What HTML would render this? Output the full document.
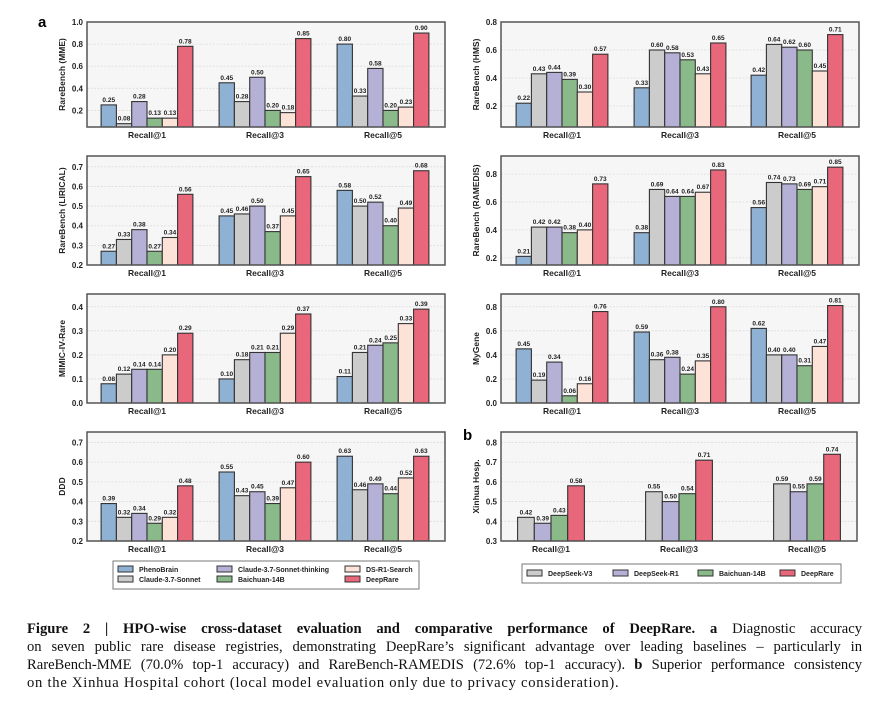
<!DOCTYPE html>
<html><head><meta charset="utf-8">
<style>
body{margin:0;background:#fff;width:876px;height:705px;overflow:hidden;font-family:"Liberation Sans",sans-serif;}
svg{position:absolute;left:0;top:0;}
#cap{position:absolute;left:27px;top:620px;width:835px;font-family:"Liberation Serif",serif;font-size:14.6px;line-height:18px;color:#111;white-space:nowrap;}
#cap .j{text-align:justify;text-align-last:justify;white-space:normal;height:18px;overflow:visible;}
#cap .last{letter-spacing:0.75px;}
</style></head><body>
<svg id="fig" width="876" height="600"></svg>
<div id="cap">
<div class="j"><b>Figure 2 | HPO-wise cross-dataset evaluation and comparative performance of DeepRare.</b> <b>a</b> Diagnostic accuracy</div>
<div class="j">on seven public rare disease registries, demonstrating DeepRare’s significant advantage over leading baselines – particularly in</div>
<div class="j">RareBench-MME (70.0% top-1 accuracy) and RareBench-RAMEDIS (72.6% top-1 accuracy). <b>b</b> Superior performance consistency</div>
<div class="last">on the Xinhua Hospital cohort (local model evaluation only due to privacy consideration).</div>
</div>
<script>
const categories=["Recall@1","Recall@3","Recall@5"];
const modelsA=["PhenoBrain","Claude-3.7-Sonnet","Claude-3.7-Sonnet-thinking","Baichuan-14B","DS-R1-Search","DeepRare"];
const modelsB=["DeepSeek-V3","DeepSeek-R1","Baichuan-14B","DeepRare"];
const colorsA=["#8fb1d3","#cccccc","#b4b0d6","#8aba8a","#fde2d8","#e8677a"];
const colorsB=["#cccccc","#b4b0d6","#8aba8a","#e8677a"];
const mme=[[0.25,0.45,0.80],[0.08,0.28,0.33],[0.28,0.50,0.58],[0.13,0.20,0.20],[0.13,0.18,0.23],[0.78,0.85,0.90]];
const hms=[[0.22,0.33,0.42],[0.43,0.60,0.64],[0.44,0.58,0.62],[0.39,0.53,0.60],[0.30,0.43,0.45],[0.57,0.65,0.71]];
const lirical=[[0.27,0.45,0.58],[0.33,0.46,0.50],[0.38,0.50,0.52],[0.27,0.37,0.40],[0.34,0.45,0.49],[0.56,0.65,0.68]];
const ramedis=[[0.21,0.38,0.56],[0.42,0.69,0.74],[0.42,0.64,0.73],[0.38,0.64,0.69],[0.40,0.67,0.71],[0.73,0.83,0.85]];
const mimic=[[0.08,0.10,0.11],[0.12,0.18,0.21],[0.14,0.21,0.24],[0.14,0.21,0.25],[0.20,0.29,0.33],[0.29,0.37,0.39]];
const mygene=[[0.45,0.59,0.62],[0.19,0.36,0.40],[0.34,0.38,0.40],[0.06,0.24,0.31],[0.16,0.35,0.47],[0.76,0.80,0.81]];
const ddd=[[0.39,0.55,0.63],[0.32,0.43,0.46],[0.34,0.45,0.49],[0.29,0.39,0.44],[0.32,0.47,0.52],[0.48,0.60,0.63]];
const xinhua=[[0.42,0.55,0.59],[0.39,0.50,0.55],[0.43,0.54,0.59],[0.58,0.71,0.74]];
const ticksMME=[0.2,0.4,0.6,0.8,1.0];
const ticksHMS=[0.2,0.4,0.6,0.8];
const ticksLIR=[0.2,0.3,0.4,0.5,0.6,0.7];
const ticksRAM=[0.2,0.4,0.6,0.8];
const ticksMIM=[0.0,0.1,0.2,0.3,0.4];
const ticksMYG=[0.0,0.2,0.4,0.6,0.8];
const ticksDDD=[0.2,0.3,0.4,0.5,0.6,0.7];
const ticksXIN=[0.3,0.4,0.5,0.6,0.7,0.8];

const NS="http://www.w3.org/2000/svg";
const svg=document.getElementById('fig');
function mk(tag,attrs,parent){const e=document.createElementNS(NS,tag);for(const k in attrs)e.setAttribute(k,attrs[k]);(parent||svg).appendChild(e);return e;}

function panel(o){
  const g=mk('g',{});
  
  
  const y=v=>o.y1-(v-o.min)/(o.max-o.min)*(o.y1-o.y0);
  const bg=mk('rect',{x:o.x0,y:o.y0,width:o.x1-o.x0,height:o.y1-o.y0,fill:'#f6f6f6'},g);
  
  
  o.ticks.forEach(t=>{
    const yy=y(t);
    mk('line',{x1:o.x0,x2:o.x1,y1:yy,y2:yy,stroke:'#dcdcdc','stroke-width':0.8,'stroke-dasharray':'2,1.5'},g);
    const tl=mk('text',{x:o.x0-4,y:yy+3,'text-anchor':'end','font-size':8,'font-weight':'bold',fill:'#222'},g);
    tl.textContent=t.toFixed(1);
    
    
  });
  const n=o.vals.length;
  categories.forEach((c,i)=>{
    const cx=o.centers[i];
    for(let k=0;k<n;k++){
      const v=o.vals[k][i];
      const bx=cx+(k-n/2)*o.bw;
      const by=y(v);
      const r=mk('rect',{x:bx,y:by,width:o.bw,height:o.y1-by,fill:o.colors[k],stroke:'#333','stroke-width':1.1},g);
      
      
      const t=mk('text',{x:bx+o.bw/2,y:by-3,'text-anchor':'middle','font-size':6.5,'font-weight':'bold',fill:'#222'},g);
      t.textContent=v.toFixed(2);
      
      
    }
    const xl=mk('text',{x:cx,y:o.y1+11,'text-anchor':'middle','font-size':8.5,'font-weight':'bold',fill:'#222'},g);
    xl.textContent=c;
    
    
  });
  mk('rect',{x:o.x0,y:o.y0,width:o.x1-o.x0,height:o.y1-o.y0,fill:'none',stroke:'#555','stroke-width':1.5},g);
  const yt=mk('text',{x:0,y:0,transform:`translate(${o.x0-22},${(o.y0+o.y1)/2}) rotate(-90)`,'text-anchor':'middle','font-size':8.5,'font-weight':'bold',fill:'#222'},g);
  yt.textContent=o.title;
  
  
}
const L={x0:87,x1:445,centers:[147,265,383]};
const R={x0:501,x1:859,centers:[562,680,797]};
const rows=[[22,127],[156,265],[294,403],[432,541]];
const A={bw:15.3,colors:colorsA,models:modelsA};
panel({...L,...A,y0:rows[0][0],y1:rows[0][1],min:0.05,max:1.0,ticks:ticksMME,vals:mme,title:'RareBench (MME)',name:'panel-mme'});
panel({...R,...A,y0:rows[0][0],y1:rows[0][1],min:0.05,max:0.8,ticks:ticksHMS,vals:hms,title:'RareBench (HMS)',name:'panel-hms'});
panel({...L,...A,y0:rows[1][0],y1:rows[1][1],min:0.2,max:0.755,ticks:ticksLIR,vals:lirical,title:'RareBench (LIRICAL)',name:'panel-lirical'});
panel({...R,...A,y0:rows[1][0],y1:rows[1][1],min:0.148,max:0.93,ticks:ticksRAM,vals:ramedis,title:'RareBench (RAMEDIS)',name:'panel-ramedis'});
panel({...L,...A,y0:rows[2][0],y1:rows[2][1],min:0,max:0.453,ticks:ticksMIM,vals:mimic,title:'MIMIC-IV-Rare',name:'panel-mimic'});
panel({...R,...A,y0:rows[2][0],y1:rows[2][1],min:0,max:0.906,ticks:ticksMYG,vals:mygene,title:'MyGene',name:'panel-mygene'});
panel({...L,...A,y0:rows[3][0],y1:rows[3][1],min:0.2,max:0.753,ticks:ticksDDD,vals:ddd,title:'DDD',name:'panel-ddd'});
panel({x0:501,x1:857,centers:[551,679,807],bw:16.7,colors:colorsB,models:modelsB,y0:432,y1:541,min:0.3,max:0.853,ticks:ticksXIN,vals:xinhua,title:'Xinhua Hosp.',name:'panel-xinhua'});

const la=mk('text',{x:38,y:27,'font-size':15,'font-weight':'bold',fill:'#000'});la.textContent='a';


const lb=mk('text',{x:463,y:440,'font-size':15,'font-weight':'bold',fill:'#000'});lb.textContent='b';



const lgA=mk('g',{});


mk('rect',{x:113,y:561,width:306,height:28,fill:'#fff',stroke:'#777','stroke-width':1},lgA);
const colX=[118,217,345],rowY=[566,576];
modelsA.forEach((m,k)=>{
  const cx=colX[Math.floor(k/2)],cy=rowY[k%2];
  const s=mk('rect',{x:cx,y:cy,width:15,height:6,fill:colorsA[k],stroke:'#333','stroke-width':1},lgA);
  
  
  const t=mk('text',{x:cx+21,y:cy+6,'font-size':7,'font-weight':'bold',fill:'#222'},lgA);
  t.textContent=m;
  
  
});
const lgB=mk('g',{});


mk('rect',{x:522,y:564,width:319,height:19,fill:'#fff',stroke:'#777','stroke-width':1},lgB);
const bX=[527,613,698,780];
modelsB.forEach((m,k)=>{
  const s=mk('rect',{x:bX[k],y:570,width:15,height:6,fill:colorsB[k],stroke:'#333','stroke-width':1},lgB);
  
  
  const t=mk('text',{x:bX[k]+21,y:576,'font-size':7,'font-weight':'bold',fill:'#222'},lgB);
  t.textContent=m;
  
  
});
</script>
</body></html>
